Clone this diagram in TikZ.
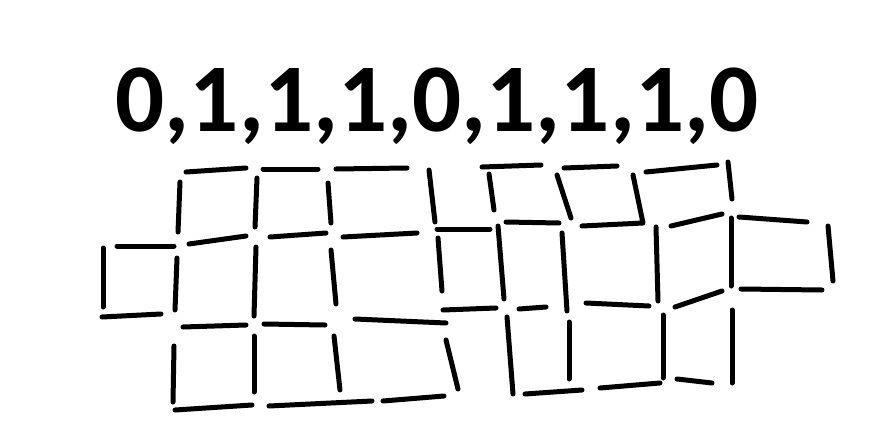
\documentclass[tikz,border=0pt]{standalone}
\usepackage{fontspec}
\setmainfont{Carlito}
\usepackage{tikz}

\tikzset{
	stick/.style={line width=5pt, line cap=round, line join=round}
}

\begin{document}
\begin{tikzpicture}[x=1pt,y=-1pt]

	\useasboundingbox (0,0) rectangle (880,439);
	\node[anchor=base,inner sep=0pt] (word) at (437,131){\fontsize{97}{97}\selectfont\bfseries 0,1,1,1,0,1,1,1,0};

	% top row
	\foreach \a/\b/\c/\d in {186/172/246/168, 263/169/318/169, 336/169/407/168,
		482/167/541/165, 564/168/617/166, 646/172/717/165}
		\draw[stick] (\a,\b) -- (\c,\d);
	% first uprights
	\foreach \a/\b/\c/\d in {180/182/178/232, 257/178/255/227, 328/183/331/223,
		429/170/435/222, 489/174/494/210, 557/175/571/218, 728/162/732/199}
		\draw[stick] (\a,\b) -- (\c,\d);
	\draw[stick] (633,175) -- (643,223) -- (582,226); %bent stick
	% second row
	\foreach \a/\b/\c/\d in {117/246/174/246, 189/244/246/236, 270/237/326/233,
		343/237/417/233, 437/229/490/229, 506/222/559/223, 671/226/722/214,
		739/217/807/222}
		\draw[stick] (\a,\b) -- (\c,\d);
	% second uprights
	\foreach \a/\b/\c/\d in {103/248/103/307, 177/258/175/310, 256/247/254/316,
		331/250/336/304, 438/238/442/291, 498/226/504/299, 562/233/567/311,
		656/227/658/301, 731/218/731/286, 828/226/833/281}
		\draw[stick] (\a,\b) -- (\c,\d);
	% third row
	\foreach \a/\b/\c/\d in {102/317/161/314, 183/327/246/325, 264/324/325/325,
		355/319/446/323, 443/310/496/308, 519/309/546/307, 586/303/649/306,
		675/307/722/291, 741/289/822/290}
		\draw[stick] (\a,\b) -- (\c,\d);
	% third uprights
	\foreach \a/\b/\c/\d in {174/346/173/402, 254/336/254/392, 334/336/340/390,
		446/340/458/389, 507/317/513/394, 569/322/569/379, 663/315/663/378,
		732/310/732/383}
		\draw[stick] (\a,\b) -- (\c,\d);
	% bottom row
	\foreach \a/\b/\c/\d in {175/410/252/405, 269/406/372/401, 383/401/444/396,
		525/394/582/390, 600/388/660/383, 677/379/712/383}
		\draw[stick] (\a,\b) -- (\c,\d);

\end{tikzpicture}
\end{document}
